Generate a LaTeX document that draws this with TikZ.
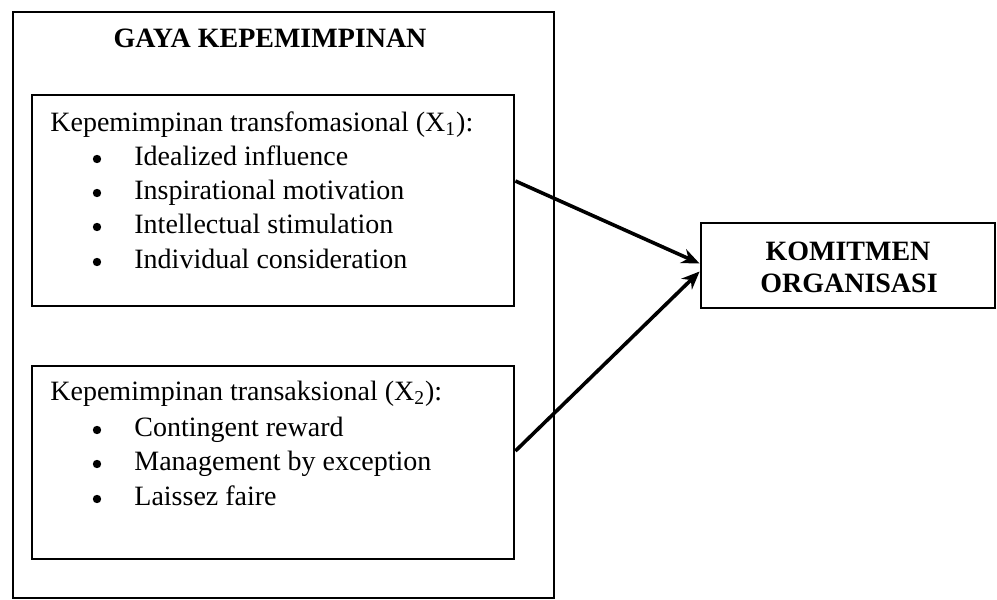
\documentclass[tikz,border=0pt]{standalone}
\usepackage{fontspec}
\setmainfont{Liberation Serif}
\usetikzlibrary{arrows.meta}

\begin{document}
\begin{tikzpicture}[x=0.5pt,y=-0.5pt,
  arr/.style={-{Stealth[length=9pt,width=7.5pt]}, line width=1.8pt}]
 \useasboundingbox (0,0) rectangle (997,600);
 \begin{scope}[every node/.style={draw, line width=1.4pt, inner sep=0pt}]
  \node[minimum width=270.5pt, minimum height=293pt] (gaya) at (283.5,305) {};
  \node[minimum width=241pt, minimum height=105.5pt] (trf) at (273,200.5) {};
  \node[minimum width=241pt, minimum height=96.5pt] (trs) at (273,462.5) {};
  \node[minimum width=147pt, minimum height=42.5pt] (komit) at (848,265.5) {};
 \end{scope}
 \begin{scope}[every node/.style={anchor=base, inner sep=0pt,
               font=\fontsize{14}{15}\selectfont\bfseries}]
  \node (title) at (270,47) {GAYA KEPEMIMPINAN};
  \node (komit1) at (848,260) {KOMITMEN};
  \node (komit2) at (849,292) {ORGANISASI};
 \end{scope}
 \begin{scope}[every node/.style={anchor=base west, inner sep=0pt,
               font=\fontsize{14}{17}\selectfont}]
  \node (x1) at (50,131) {Kepemimpinan transfomasional (X\textsubscript{1}):};
  \node (x1a) at (134,165) {Idealized influence};
  \node (x1b) at (134,199) {Inspirational motivation};
  \node (x1c) at (134,233) {Intellectual stimulation};
  \node (x1d) at (134,268) {Individual consideration};
  \node (x2) at (50,400) {Kepemimpinan transaksional (X\textsubscript{2}):};
  \node (x2a) at (134,436) {Contingent reward};
  \node (x2b) at (134,470) {Management by exception};
  \node (x2c) at (134,505) {Laissez faire};
 \end{scope}
 \begin{scope}[every node/.style={circle, fill, inner sep=0pt, minimum size=4.2pt}]
  \node (d1a) at (97,159) {};
  \node (d1b) at (97,193) {};
  \node (d1c) at (97,227) {};
  \node (d1d) at (97,262) {};
  \node (d2a) at (97,430) {};
  \node (d2b) at (97,464) {};
  \node (d2c) at (97,499) {};
 \end{scope}
 \draw[arr] ([yshift=9.75pt]trf.east) -- ([yshift=1pt]komit.west);
 \draw[arr] ([yshift=5.75pt]trs.east) -- ([yshift=-3pt]komit.west);
\end{tikzpicture}
\end{document}
